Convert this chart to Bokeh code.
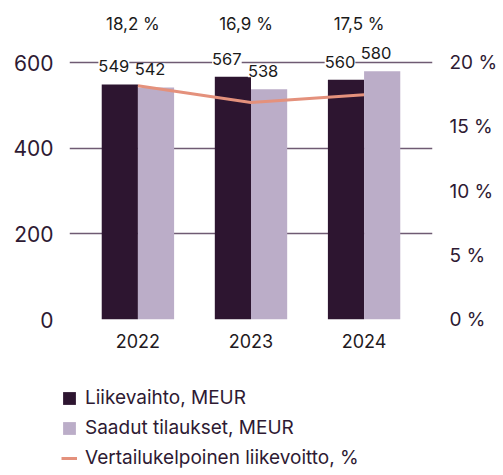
from bokeh.plotting import figure
from bokeh.layouts import column
from bokeh.models import (ColumnDataSource, Range1d, LinearAxis, FixedTicker, LabelSet,
                          Legend, LegendItem, FactorRange)
from bokeh.core.properties import value
from bokeh.transform import dodge
from bokeh.embed import file_html
from bokeh.resources import INLINE

years = ["2022", "2023", "2024"]
liikevaihto = [549, 567, 560]
tilaukset = [542, 538, 580]
liikevoitto = [18.2, 16.9, 17.5]
pct_labels = ["18,2 %", "16,9 %", "17,5 %"]
series_names = ["Liikevaihto, MEUR", "Saadut tilaukset, MEUR", "Vertailukelpoinen liikevoitto, %"]

FONT = "Inter"
DARK = "#2d1530"
LIGHT = "#bbadc8"
LINE = "#e4917c"
GRID = "#6f5b73"
TXT = "#2e1a33"

scale = 30.0  # 20 % == 600 MEUR
YMAX = 745
src = ColumnDataSource(dict(
    year=years, lv=liikevaihto, ti=tilaukset, pct=liikevoitto, pct_lab=pct_labels,
    lv_lab=[str(v) for v in liikevaihto], ti_lab=[str(v) for v in tilaukset],
))

p = figure(x_range=FactorRange(*years, range_padding=0.07), y_range=Range1d(0, YMAX),
           width=500, height=375,
           output_backend="svg", toolbar_location=None,
           min_border_left=69, min_border_top=0, min_border_right=59, min_border_bottom=56)
p.outline_line_color = None
p.background_fill_color = "white"
p.border_fill_color = "white"

bw = 0.32
p.vbar(x=dodge("year", -bw / 2, range=p.x_range), top="lv", width=bw, source=src,
       fill_color=DARK, line_color=None)
p.vbar(x=dodge("year", bw / 2, range=p.x_range), top="ti", width=bw, source=src,
       fill_color=LIGHT, line_color=None)

p.extra_y_ranges = {"pct": Range1d(0, YMAX / scale)}
p.line(x="year", y="pct", y_range_name="pct", source=src, line_color=LINE, line_width=3)

# value labels
lab_kw = dict(text_font=value(FONT), text_font_size="16.5px", text_color="#1a1a1a",
              text_align="center", text_baseline="alphabetic",
              background_fill_color="white", y_offset=12, x_offset=-6)
p.add_layout(LabelSet(x=dodge("year", -bw / 2, range=p.x_range), y="lv", text="lv_lab",
                      source=src, **lab_kw))
p.add_layout(LabelSet(x=dodge("year", bw / 2, range=p.x_range), y="ti", text="ti_lab",
                      source=src, **lab_kw))
# percentage labels in a row along the top of the chart
p.add_layout(LabelSet(x="year", y=YMAX, text="pct_lab", source=src,
                      text_font=value(FONT), text_font_size="17px", text_color="#1a1a1a",
                      text_align="center", text_baseline="alphabetic",
                      y_offset=-29, x_offset=-5))

# axes
ax = p.yaxis[0]
ax.ticker = FixedTicker(ticks=[0, 200, 400, 600])
ax.axis_line_color = None
ax.major_tick_line_color = None
ax.minor_tick_line_color = None
ax.major_label_text_font = FONT
ax.major_label_text_font_size = "21px"
ax.major_label_text_color = TXT
ax.major_label_standoff = 10

rax = LinearAxis(y_range_name="pct", ticker=FixedTicker(ticks=[0, 5, 10, 15, 20]))
rax.major_label_overrides = {0: "0 %", 5: "5 %", 10: "10 %", 15: "15 %", 20: "20 %"}
rax.axis_line_color = None
rax.major_tick_line_color = None
rax.minor_tick_line_color = None
rax.major_label_text_font = FONT
rax.major_label_text_font_size = "19px"
rax.major_label_text_color = TXT
rax.major_label_standoff = 11
p.add_layout(rax, "right")

xa = p.xaxis[0]
xa.axis_line_color = None
xa.major_tick_line_color = None
xa.major_label_text_font = FONT
xa.major_label_text_font_size = "18px"
xa.major_label_text_color = "#1f1a22"
xa.major_label_standoff = 8

p.xgrid.grid_line_color = None
p.ygrid.grid_line_color = GRID
p.ygrid.grid_line_width = 1.5
p.ygrid.ticker = ax.ticker

# legend strip below the chart; its renderers are hidden and serve only as legend swatches
lg = figure(width=500, height=98, x_range=Range1d(0, 1), y_range=Range1d(0, 1),
            output_backend="svg", toolbar_location=None, x_axis_type=None, y_axis_type=None,
            min_border_left=61, min_border_top=11, min_border_right=0, min_border_bottom=0)
lg.frame_align = False
lg.outline_line_color = None
lg.xgrid.grid_line_color = None
lg.ygrid.grid_line_color = None
lg.border_fill_color = "white"
g1 = lg.vbar(x="lv", top="lv", bottom="lv", width=0.1, source=src, fill_color=DARK,
             line_color=None, visible=False)
g2 = lg.vbar(x="ti", top="ti", bottom="ti", width=0.1, source=src, fill_color=LIGHT,
             line_color=None, visible=False)
g3 = lg.line(x="lv", y="ti", source=src, line_color=LINE, line_width=3, visible=False)

legend = Legend(items=[LegendItem(label=n, renderers=[r]) for n, r in zip(series_names, [g1, g2, g3])],
                location="top_left", orientation="vertical", border_line_color=None,
                background_fill_alpha=0, glyph_width=16, glyph_height=16, label_height=18,
                spacing=7, label_text_font=FONT, label_text_font_size="19px",
                label_text_color=TXT, label_standoff=8, padding=0, margin=0,
                inactive_fill_alpha=0)
lg.add_layout(legend, "center")

layout = column(p, lg, spacing=0)
open("out.html", "w").write(file_html(layout, INLINE))
